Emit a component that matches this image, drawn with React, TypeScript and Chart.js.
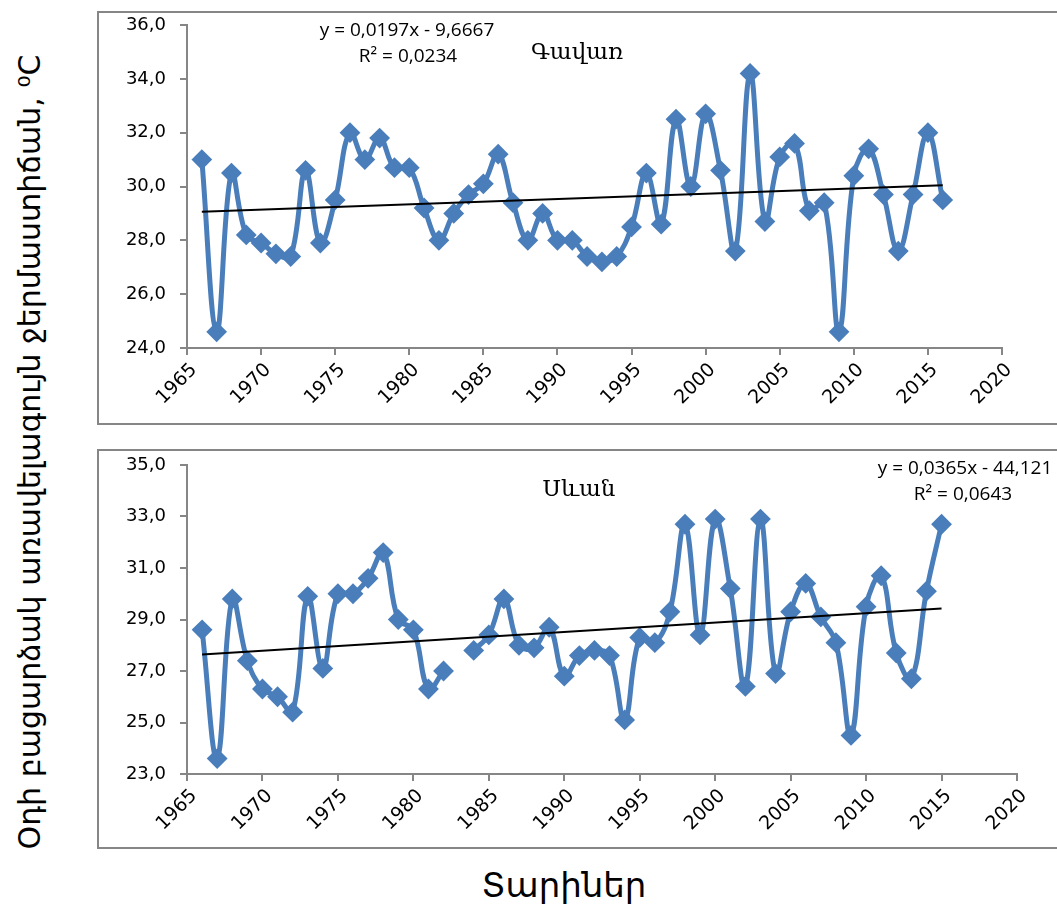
import React, { useEffect, useRef } from "react";
import { Chart, registerables } from "chart.js";

Chart.register(...registerables);

// ---------- data ----------
const gavarYears = [
  1966, 1967, 1968, 1969, 1970, 1971, 1972, 1973, 1974, 1975,
  1976, 1977, 1978, 1979, 1980, 1981, 1982, 1983, 1984, 1985,
  1986, 1987, 1988, 1989, 1990, 1991, 1992, 1993, 1994, 1995,
  1996, 1997, 1998, 1999, 2000, 2001, 2002, 2003, 2004, 2005,
  2006, 2007, 2008, 2009, 2010, 2011, 2012, 2013, 2014, 2015,
  2016,
];
const gavarTemps = [
  31.0, 24.6, 30.5, 28.2, 27.9, 27.5, 27.4, 30.6, 27.9, 29.5,
  32.0, 31.0, 31.8, 30.7, 30.7, 29.2, 28.0, 29.0, 29.7, 30.1,
  31.2, 29.4, 28.0, 29.0, 28.0, 28.0, 27.4, 27.2, 27.4, 28.5,
  30.5, 28.6, 32.5, 30.0, 32.7, 30.6, 27.6, 34.2, 28.7, 31.1,
  31.6, 29.1, 29.4, 24.6, 30.4, 31.4, 29.7, 27.6, 29.7, 32.0,
  29.5,
];
const gavarTrendCoef = [0.0197, -9.6667];

const sevanYears = [
  1966, 1967, 1968, 1969, 1970, 1971, 1972, 1973, 1974, 1975,
  1976, 1977, 1978, 1979, 1980, 1981, 1982, 1983, 1984, 1985,
  1986, 1987, 1988, 1989, 1990, 1991, 1992, 1993, 1994, 1995,
  1996, 1997, 1998, 1999, 2000, 2001, 2002, 2003, 2004, 2005,
  2006, 2007, 2008, 2009, 2010, 2011, 2012, 2013, 2014, 2015,
];
const sevanTemps = [
  28.6, 23.6, 29.8, 27.4, 26.3, 26.0, 25.4, 29.9, 27.1, 30.0,
  30.0, 30.6, 31.6, 29.0, 28.6, 26.3, 27.0, null, 27.8, 28.4,
  29.8, 28.0, 27.9, 28.7, 26.8, 27.6, 27.8, 27.6, 25.1, 28.3,
  28.1, 29.3, 32.7, 28.4, 32.9, 30.2, 26.4, 32.9, 26.9, 29.3,
  30.4, 29.1, 28.1, 24.5, 29.5, 30.7, 27.7, 26.7, 30.1, 32.7,
];
const sevanTrendCoef = [0.0365, -44.121];

const xTickRange = [1965, 2020, 5];
const gavarYRange = [24, 36, 2];
const sevanYRange = [23, 35, 2];

const gavarLabel = "Գավառ";
const sevanLabel = "Սևան";
const gavarEq = ["y = 0,0197x - 9,6667", "R² = 0,0234"];
const sevanEq = ["y = 0,0365x - 44,121", "R² = 0,0643"];
const yTitle = "Օդի բացարձակ առավելագույն ջերմաստիճան, ⁰C";
const xTitle = "Տարիներ";

// ---------- styles ----------
const BLUE = "#4A7EBB";
const AXIS = "#868686";
const Y_TICK_FONT = { family: "'DejaVu Sans', sans-serif", size: 18 };
const X_TICK_FONT = { family: "'DejaVu Sans', sans-serif", size: 19 };

type Box = {
  left: number; top: number; width: number; height: number;
  padTop: number; padRight: number; yWidth: number; xHeight: number;
};

function TempChart(props: {
  years: number[];
  temps: (number | null)[];
  coef: number[];
  yRange: number[];
  box: Box;
}) {
  const ref = useRef<HTMLCanvasElement | null>(null);
  const { years, temps, coef, yRange, box } = props;

  useEffect(() => {
    if (!ref.current) return;
    const first = years[0];
    const last = years[years.length - 1];
    const chart = new Chart(ref.current, {
      type: "line",
      data: {
        datasets: [
          {
            data: [
              { x: first, y: coef[0] * first + coef[1] },
              { x: last, y: coef[0] * last + coef[1] },
            ],
            borderColor: "#000",
            borderWidth: 2,
            pointRadius: 0,
            tension: 0,
            order: 0,
            clip: false as any,
          },
          {
            data: years.map((y, i) => ({ x: y, y: temps[i] as any })),
            borderColor: BLUE,
            backgroundColor: BLUE,
            borderWidth: 5,
            pointStyle: "rectRot",
            pointRadius: 9,
            pointBorderWidth: 2,
            pointBackgroundColor: BLUE,
            pointBorderColor: BLUE,
            tension: 0.4,
            spanGaps: false,
            order: 1,
            clip: false as any,
          },
        ],
      },
      options: {
        animation: false,
        responsive: false,
        maintainAspectRatio: false,
        layout: {
          autoPadding: false,
          padding: { top: box.padTop, right: box.padRight, left: 0, bottom: 0 },
        },
        plugins: { legend: { display: false }, tooltip: { enabled: false } },
        scales: {
          x: {
            type: "linear",
            min: xTickRange[0],
            max: xTickRange[1],
            ticks: {
              stepSize: xTickRange[2],
              minRotation: 45,
              maxRotation: 45,
              autoSkip: false,
              color: "#000",
              font: X_TICK_FONT,
              padding: 4,
              labelOffset: 7,
              callback: (v: any) => String(v),
            },
            grid: {
              drawOnChartArea: false,
              drawTicks: true,
              tickLength: 7,
              color: AXIS,
              lineWidth: 2,
            },
            border: { color: AXIS, width: 2 },
            afterFit: (s: any) => {
              s.height = box.xHeight;
              s.paddingLeft = 0;
              s.paddingRight = 0;
              s.paddingTop = 0;
              s.paddingBottom = 0;
            },
          },
          y: {
            type: "linear",
            min: yRange[0],
            max: yRange[1],
            ticks: {
              stepSize: yRange[2],
              color: "#000",
              font: Y_TICK_FONT,
              padding: 14,
              callback: (v: any) => Number(v).toFixed(1).replace(".", ","),
            },
            grid: {
              drawOnChartArea: false,
              drawTicks: true,
              tickLength: 7,
              color: AXIS,
              lineWidth: 2,
            },
            border: { color: AXIS, width: 2 },
            afterFit: (s: any) => {
              s.width = box.yWidth;
              s.paddingLeft = 0;
              s.paddingRight = 0;
              s.paddingTop = 0;
              s.paddingBottom = 0;
            },
          },
        },
      },
    } as any);
    return () => chart.destroy();
  }, []);

  return (
    <canvas
      ref={ref}
      width={box.width}
      height={box.height}
      style={{
        position: "absolute",
        left: box.left,
        top: box.top,
        width: box.width,
        height: box.height,
      }}
    />
  );
}

function Label(props: { x: number; y: number; text: string; style?: React.CSSProperties }) {
  return (
    <div
      style={{
        position: "absolute",
        left: props.x,
        top: props.y,
        transform: "translate(-50%, -50%)",
        whiteSpace: "nowrap",
        lineHeight: 1,
        color: "#000",
        ...props.style,
      }}
    >
      {props.text}
    </div>
  );
}

const eqStyle: React.CSSProperties = { fontFamily: "'Open Sans', sans-serif", fontSize: 19 };
const nameStyle: React.CSSProperties = { fontFamily: "'DejaVu Serif', serif", fontSize: 23 };

export default function App() {
  const topBox: Box = {
    left: 99, top: 13, width: 958, height: 410,
    padTop: 12, padRight: 55, yWidth: 88, xHeight: 75,
  };
  const botBox: Box = {
    left: 99, top: 452, width: 958, height: 395,
    padTop: 13, padRight: 40, yWidth: 88, xHeight: 73,
  };
  return (
    <div
      style={{
        position: "fixed",
        left: 0,
        top: 0,
        width: 1057,
        height: 907,
        overflow: "hidden",
        background: "#fff",
      }}
    >
      <div
        style={{
          position: "absolute", left: 97, top: 11, width: 1000, height: 414,
          border: `2px solid ${AXIS}`, boxSizing: "border-box",
        }}
      />
      <div
        style={{
          position: "absolute", left: 97, top: 449, width: 1000, height: 400,
          border: `2px solid ${AXIS}`, boxSizing: "border-box",
        }}
      />
      <TempChart years={gavarYears} temps={gavarTemps} coef={gavarTrendCoef} yRange={gavarYRange} box={topBox} />
      <TempChart years={sevanYears} temps={sevanTemps} coef={sevanTrendCoef} yRange={sevanYRange} box={botBox} />

      <Label x={407} y={29} text={gavarEq[0]} style={eqStyle} />
      <Label x={408} y={55} text={gavarEq[1]} style={eqStyle} />
      <Label x={577} y={51} text={gavarLabel} style={nameStyle} />

      <Label x={965} y={467} text={sevanEq[0]} style={eqStyle} />
      <Label x={963} y={493} text={sevanEq[1]} style={eqStyle} />
      <Label x={579} y={488} text={sevanLabel} style={nameStyle} />

      <Label
        x={30}
        y={452}
        text={yTitle}
        style={{
          fontFamily: "'DejaVu Sans', sans-serif",
          fontSize: 30,
          transform: "translate(-50%, -50%) rotate(-90deg)",
        }}
      />
      <Label
        x={564}
        y={885}
        text={xTitle}
        style={{ fontFamily: "'DejaVu Sans', sans-serif", fontSize: 34 }}
      />
    </div>
  );
}
